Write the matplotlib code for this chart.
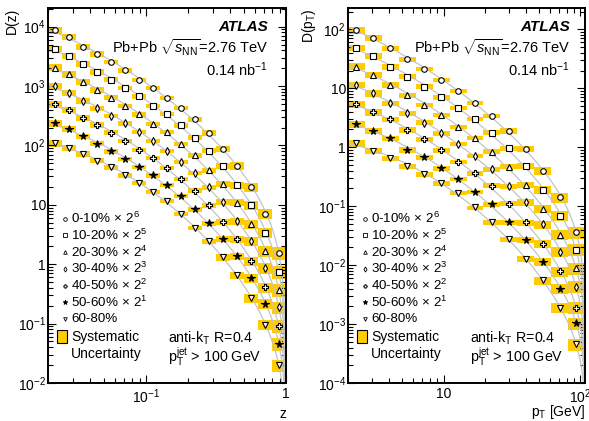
import numpy as np
import matplotlib
matplotlib.use("Agg")
from matplotlib import pyplot as plt
from matplotlib.patches import Rectangle
from matplotlib.ticker import LogLocator, FuncFormatter, NullFormatter

plt.rcParams["font.family"] = ["Liberation Sans", "DejaVu Sans"]
plt.rcParams["mathtext.fontset"] = "custom"
plt.rcParams["mathtext.rm"] = "Liberation Sans"
plt.rcParams["mathtext.it"] = "Liberation Sans:italic"
plt.rcParams["mathtext.bf"] = "Liberation Sans:bold"

# ---- data ----
centralities = ["0-10%", "10-20%", "20-30%", "30-40%", "40-50%", "50-60%", "60-80%"]
scale_powers = [6, 5, 4, 3, 2, 1, 0]

z_edges = [0.02, 0.0251, 0.0316, 0.0398, 0.0501, 0.0631, 0.0794, 0.1, 0.126,
           0.158, 0.2, 0.251, 0.316, 0.398, 0.501, 0.631, 0.794, 1.0]
dz_0_10 = [8790, 6700, 4550, 3470, 2550, 1845, 1285, 920, 641, 424, 277, 163, 88, 45.5, 20, 7.1, 1.55]
dz_10_20 = [4220, 3260, 2390, 1730, 1285, 931, 667, 470, 336, 217, 135, 82, 45.5, 21.3, 9.9, 3.4, 0.75]
dz_20_30 = [2046, 1580, 1190, 863, 641, 464, 332, 231, 167, 107, 68, 38.5, 22.4, 10.9, 4.8, 1.66, 0.37]
dz_30_40 = [1007, 759, 564, 424, 315, 234, 168, 120, 82, 52.5, 34.3, 19.7, 11.1, 5.3, 2.44, 0.87, 0.19]
dz_40_50 = [495, 397, 294, 222, 165, 120, 84.5, 61.2, 41.6, 27.2, 17.3, 9.9, 5.2, 2.67, 1.14, 0.41, 0.091]
dz_50_60 = [237, 190, 142, 107, 79.3, 59.7, 43.2, 31.3, 21.8, 13.9, 8.4, 4.9, 2.67, 1.36, 0.59, 0.216, 0.046]
dz_60_80 = [109, 90, 71.4, 55.2, 42.7, 31.3, 23.3, 16.5, 11.8, 7.1, 4.09, 2.44, 1.31, 0.66, 0.27, 0.096, 0.020]
sys_z = [0.13, 0.12, 0.11, 0.10, 0.09, 0.09, 0.08, 0.08, 0.08, 0.08, 0.09, 0.10, 0.12, 0.14, 0.17, 0.20, 0.24]

pt_edges = [2.0, 2.66, 3.54, 4.70, 6.25, 8.31, 11.05, 14.7, 19.5, 26.0, 34.5, 45.9, 61.0, 81.1, 108.0]
dpt_0_10 = [97.5, 72.3, 47.7, 31, 21.3, 13.8, 9.1, 5.57, 3.4, 1.89, 0.94, 0.40, 0.142, 0.036]
dpt_10_20 = [48.9, 35.3, 23.3, 15.8, 10.7, 7.0, 4.58, 2.98, 1.77, 0.96, 0.48, 0.19, 0.069, 0.0182]
dpt_20_30 = [23.3, 16.8, 11.4, 7.7, 5.2, 3.53, 2.24, 1.46, 0.845, 0.47, 0.23, 0.091, 0.033, 0.0089]
dpt_30_40 = [11.4, 8.2, 5.57, 3.77, 2.62, 1.73, 1.14, 0.71, 0.42, 0.22, 0.116, 0.049, 0.017, 0.0043]
dpt_40_50 = [5.36, 3.92, 2.98, 1.97, 1.37, 0.88, 0.57, 0.36, 0.224, 0.11, 0.053, 0.0229, 0.0079, 0.0019]
dpt_50_60 = [2.48, 1.89, 1.42, 0.90, 0.68, 0.44, 0.287, 0.177, 0.107, 0.0536, 0.0269, 0.0114, 0.0040, 0.00103]
dpt_60_80 = [1.17, 0.87, 0.65, 0.48, 0.35, 0.245, 0.166, 0.095, 0.0536, 0.0272, 0.0128, 0.0055, 0.0019, 0.00045]
sys_pt = [0.13, 0.12, 0.11, 0.10, 0.09, 0.09, 0.08, 0.08, 0.09, 0.10, 0.12, 0.15, 0.19, 0.23]

dz_all = [dz_0_10, dz_10_20, dz_20_30, dz_30_40, dz_40_50, dz_50_60, dz_60_80]
dpt_all = [dpt_0_10, dpt_10_20, dpt_20_30, dpt_30_40, dpt_40_50, dpt_50_60, dpt_60_80]

# ---- style ----
YELLOW = "#ffcc00"
markers = ["o", "s", "^", "d", "P", "*", "v"]
filled = [False, False, False, False, False, True, False]


def log_label(v, pos):
    e = int(round(np.log10(v)))
    if e == 0:
        return "1"
    if e == 1:
        return "10"
    return r"$10^{%d}$" % e


def draw_panel(ax, edges, series, sys, xlim, ylim):
    edges = np.array(edges)
    centers = np.sqrt(edges[:-1] * edges[1:])
    widths = np.diff(edges)
    sys = np.array(sys)
    for y in series:
        y = np.array(y)
        ax.bar(edges[:-1], y * 2 * sys, bottom=y * (1 - sys), width=widths,
               align="edge", color=YELLOW, linewidth=0, zorder=1)
    for y in series:
        y = np.array(y)
        # smooth fit through the points: log y = a + b u + c u^2 + d log(1 - x/xmax)
        u = np.log10(centers)
        A = np.column_stack([np.ones_like(u), u, u ** 2, np.log10(1 - centers / edges[-1])])
        coef, *_ = np.linalg.lstsq(A, np.log10(y), rcond=None)
        xs = np.geomspace(edges[0], edges[-1] * 0.99999, 400)
        us = np.log10(xs)
        As = np.column_stack([np.ones_like(us), us, us ** 2, np.log10(1 - xs / edges[-1])])
        ax.plot(xs, 10 ** (As @ coef), color="#c4c4c4", lw=0.9, zorder=2)
    for i, y in enumerate(series):
        ax.plot(centers, y, linestyle="none", marker=markers[i],
                ms=5.5 if markers[i] == "*" else 4,
                mfc="black" if filled[i] else "white", mec="black", mew=0.8, zorder=3)
    ax.set_xscale("log")
    ax.set_yscale("log")
    ax.set_xlim(*xlim)
    ax.set_ylim(*ylim)
    for axis in (ax.xaxis, ax.yaxis):
        axis.set_major_locator(LogLocator(base=10, numticks=20))
        axis.set_minor_locator(LogLocator(base=10, subs=np.arange(2, 10), numticks=20))
        axis.set_major_formatter(FuncFormatter(log_label))
        axis.set_minor_formatter(NullFormatter())
    ax.tick_params(which="both", direction="in", top=True, right=True, width=0.8,
                   labelsize=10)
    ax.tick_params(which="major", length=6)
    ax.tick_params(which="minor", length=3.5)
    ax.tick_params(axis="y", pad=1.5)
    ax.tick_params(axis="x", pad=3)
    for s in ax.spines.values():
        s.set_linewidth(1.4)

    # legend
    for i, name in enumerate(centralities):
        yy = 0.438 - i * 0.0445
        lab = name if scale_powers[i] == 0 else name + r"$\,\times\,2^{%d}$" % scale_powers[i]
        ax.plot([0.07], [yy], transform=ax.transAxes, linestyle="none", marker=markers[i],
                ms=3.5 if markers[i] == "*" else 2.6,
                mfc="black" if filled[i] else "white", mec="black", mew=0.6, clip_on=False)
        ax.text(0.097, yy, lab, transform=ax.transAxes, fontsize=9.6, va="center", ha="left")
    ax.add_patch(Rectangle((0.038, 0.107), 0.042, 0.034, transform=ax.transAxes,
                           facecolor=YELLOW, edgecolor="black", lw=0.8))
    ax.text(0.097, 0.123, "Systematic", transform=ax.transAxes, fontsize=10, va="center")
    ax.text(0.097, 0.077, "Uncertainty", transform=ax.transAxes, fontsize=10, va="center")


fig = plt.figure(figsize=(5.89, 4.21), dpi=100)
ax1 = fig.add_axes([48 / 589, 38 / 421, 238 / 589, 375 / 421])
ax2 = fig.add_axes([348 / 589, 38 / 421, 237 / 589, 375 / 421])

draw_panel(ax1, z_edges, dz_all, sys_z, (0.02, 1.0), (1e-2, 2.06e4))
draw_panel(ax2, pt_edges, dpt_all, sys_pt, (2.0, 108.0), (1e-4, 230))

for ax, xr in ((ax1, 0.926), (ax2, 0.937)):
    ax.text(xr, 0.949, "ATLAS", transform=ax.transAxes, fontsize=11, fontweight="bold",
            fontstyle="italic", ha="right", va="center")
    ax.text(xr, 0.893, r"Pb+Pb $\sqrt{s_{\mathrm{NN}}}$=2.76 TeV", transform=ax.transAxes,
            fontsize=10.5, ha="right", va="center")
    ax.text(xr, 0.835, r"0.14 nb$^{\mathrm{-1}}$", transform=ax.transAxes,
            fontsize=10.5, ha="right", va="center")

for ax, xl in ((ax1, 0.504), (ax2, 0.515)):
    ax.text(xl, 0.12, r"anti-k$_{\mathrm{T}}$ R=0.4", transform=ax.transAxes,
            fontsize=10.3, va="center")
    ax.text(xl, 0.068, r"p$_{\mathrm{T}}^{\mathrm{jet}}$ > 100 GeV", transform=ax.transAxes,
            fontsize=10.3, va="center")

ax1.set_ylabel("D(z)", fontsize=10, loc="top")
ax1.yaxis.set_label_coords(-0.122, 1.0)
ax2.set_ylabel(r"D(p$_{\mathrm{T}}$)", fontsize=10, loc="top")
ax2.yaxis.set_label_coords(-0.127, 1.0)
ax1.set_xlabel("z", fontsize=10, loc="right", va="center")
ax1.xaxis.set_label_coords(1.0, -0.083)
ax2.set_xlabel(r"p$_{\mathrm{T}}$ [GeV]", fontsize=10, loc="right", va="center")
ax2.xaxis.set_label_coords(1.0, -0.078)

fig.savefig("out.png", dpi=100)
